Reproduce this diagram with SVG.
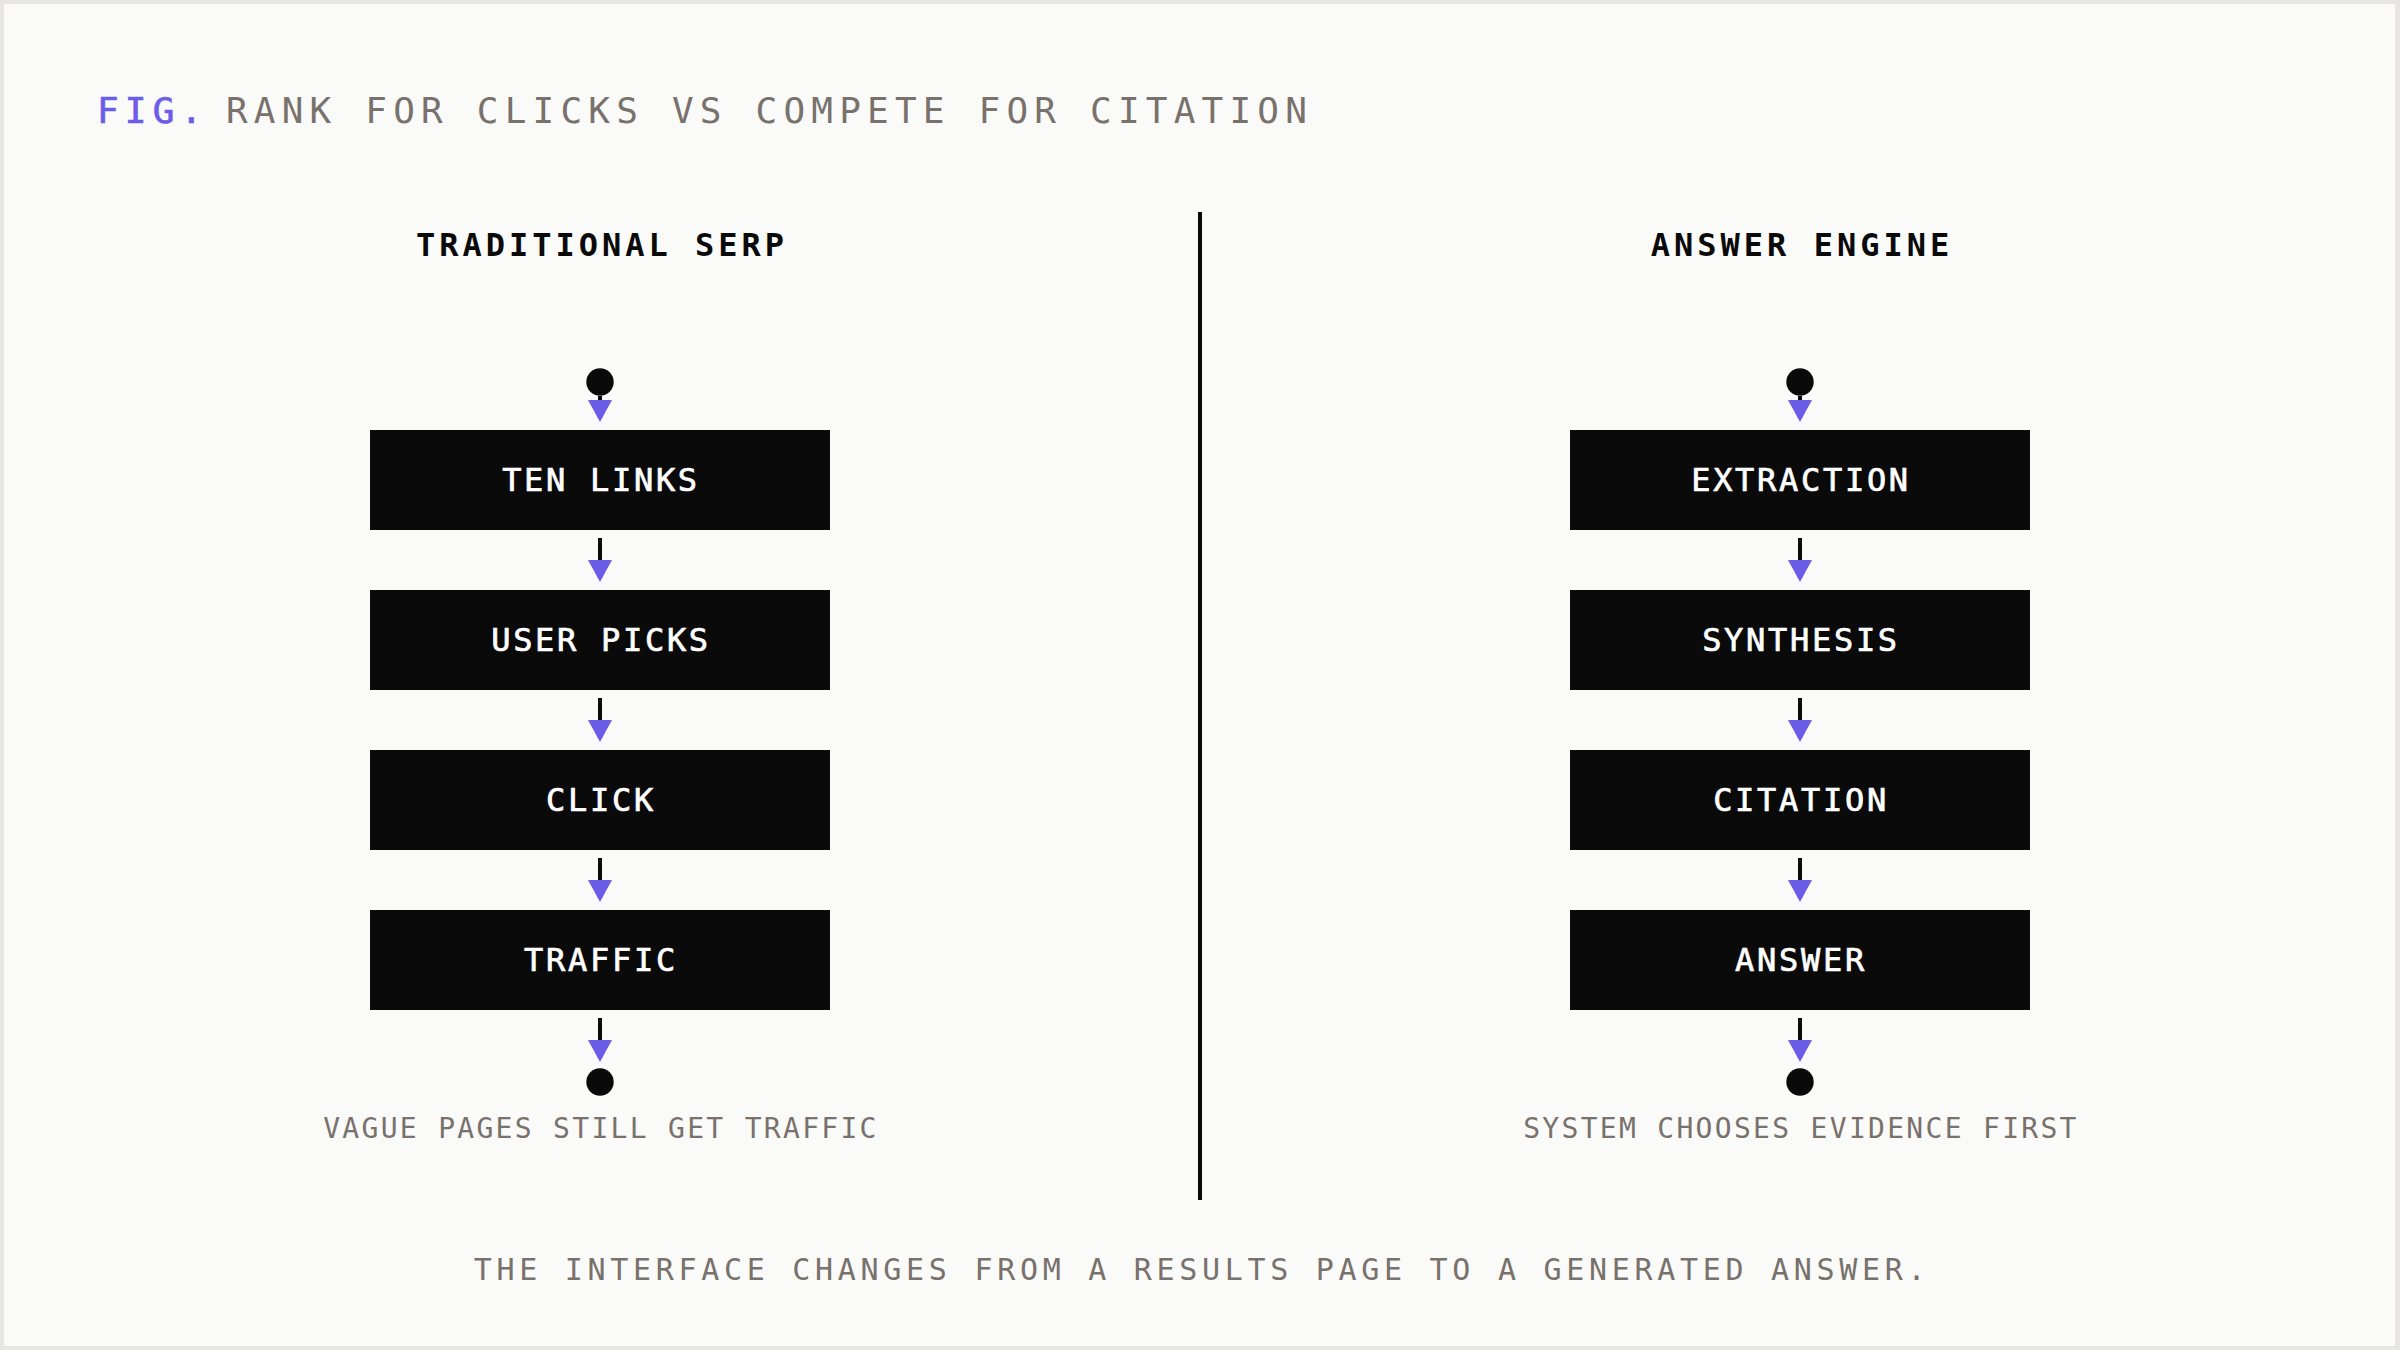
<svg xmlns="http://www.w3.org/2000/svg" width="2400" height="1350" viewBox="0 0 2400 1350">
<defs>
<style>
.mono{font-family:"DejaVu Sans Mono","Liberation Mono",monospace}
.title{font-size:36px;letter-spacing:6.2px;fill:#78716c}
.fig{fill:#6c5ce7;stroke:#6c5ce7;stroke-width:0.7px}
.head{font-size:32px;font-weight:bold;letter-spacing:4px;fill:#0a0a0a;text-anchor:middle}
.box{fill:#0a0a0a}
.lbl{font-size:32px;letter-spacing:2.7px;fill:#ffffff;stroke:#ffffff;stroke-width:0.7px;text-anchor:middle}
.cap{font-size:28px;letter-spacing:2.3px;fill:#78716c;text-anchor:middle}
.foot{font-size:30px;letter-spacing:4.7px;fill:#78716c;text-anchor:middle}
.dot{fill:#0a0a0a}
.conn{stroke:#0a0a0a;stroke-width:4;fill:none}
</style>
<marker id="arr" viewBox="0 0 22 24" refX="0" refY="12" markerWidth="22" markerHeight="24" markerUnits="userSpaceOnUse" orient="auto">
<path d="M0,0 L22,12 L0,24 Z" fill="#6c5ce7"/>
</marker>
</defs>
<rect x="0" y="0" width="2400" height="1350" fill="#e7e6e3"/>
<rect x="4" y="4" width="2391" height="1342" fill="#fafaf8"/>

<g id="title" class="mono">
<text x="97" y="123" class="title fig">FIG.</text>
<text x="226" y="123" class="title">RANK FOR CLICKS VS COMPETE FOR CITATION</text>
</g>

<g id="divider"><line x1="1200" y1="212" x2="1200" y2="1200" stroke="#0a0a0a" stroke-width="4"/></g>

<g id="heading-left" class="mono"><text x="602" y="256" class="head">TRADITIONAL SERP</text></g>
<g id="heading-right" class="mono"><text x="1802" y="256" class="head">ANSWER ENGINE</text></g>

<g id="connectors">
<path class="conn" marker-end="url(#arr)" d="M600,396 V400"/>
<path class="conn" marker-end="url(#arr)" d="M600,538 V560"/>
<path class="conn" marker-end="url(#arr)" d="M600,698 V720"/>
<path class="conn" marker-end="url(#arr)" d="M600,858 V880"/>
<path class="conn" marker-end="url(#arr)" d="M600,1018 V1040"/>
<path class="conn" marker-end="url(#arr)" d="M1800,396 V400"/>
<path class="conn" marker-end="url(#arr)" d="M1800,538 V560"/>
<path class="conn" marker-end="url(#arr)" d="M1800,698 V720"/>
<path class="conn" marker-end="url(#arr)" d="M1800,858 V880"/>
<path class="conn" marker-end="url(#arr)" d="M1800,1018 V1040"/>
</g>

<g id="start-left"><circle class="dot" cx="600" cy="382" r="13.7"/></g>
<g id="ten-links" class="mono"><rect class="box" x="370" y="430" width="460" height="100"/><text x="601" y="491" class="lbl">TEN LINKS</text></g>
<g id="user-picks" class="mono"><rect class="box" x="370" y="590" width="460" height="100"/><text x="601" y="651" class="lbl">USER PICKS</text></g>
<g id="click" class="mono"><rect class="box" x="370" y="750" width="460" height="100"/><text x="601" y="811" class="lbl">CLICK</text></g>
<g id="traffic" class="mono"><rect class="box" x="370" y="910" width="460" height="100"/><text x="601" y="971" class="lbl">TRAFFIC</text></g>
<g id="end-left"><circle class="dot" cx="600" cy="1082" r="13.7"/></g>
<g id="caption-left" class="mono"><text x="601" y="1138" class="cap">VAGUE PAGES STILL GET TRAFFIC</text></g>

<g id="start-right"><circle class="dot" cx="1800" cy="382" r="13.7"/></g>
<g id="extraction" class="mono"><rect class="box" x="1570" y="430" width="460" height="100"/><text x="1801" y="491" class="lbl">EXTRACTION</text></g>
<g id="synthesis" class="mono"><rect class="box" x="1570" y="590" width="460" height="100"/><text x="1801" y="651" class="lbl">SYNTHESIS</text></g>
<g id="citation" class="mono"><rect class="box" x="1570" y="750" width="460" height="100"/><text x="1801" y="811" class="lbl">CITATION</text></g>
<g id="answer" class="mono"><rect class="box" x="1570" y="910" width="460" height="100"/><text x="1801" y="971" class="lbl">ANSWER</text></g>
<g id="end-right"><circle class="dot" cx="1800" cy="1082" r="13.7"/></g>
<g id="caption-right" class="mono"><text x="1801" y="1138" class="cap">SYSTEM CHOOSES EVIDENCE FIRST</text></g>

<g id="footer" class="mono"><text x="1202" y="1280" class="foot">THE INTERFACE CHANGES FROM A RESULTS PAGE TO A GENERATED ANSWER.</text></g>
</svg>
